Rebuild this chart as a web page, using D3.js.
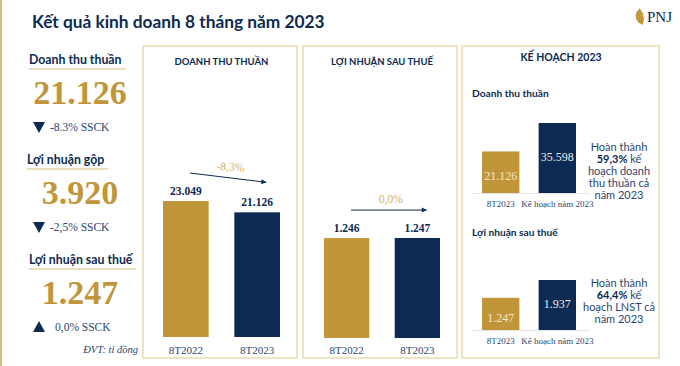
<!DOCTYPE html>
<html lang="vi">
<head>
<meta charset="UTF-8">
<title>Kết quả kinh doanh 8 tháng năm 2023</title>
<style>
    body { margin: 0; background: #fff; }
    svg { display: block; }
</style>
<script src="https://d3js.org/d3.v7.min.js"></script>
</head>
<body>
<div id="chart"></div>
<script>
    // data
    var kpiNames = ["Doanh thu thuần", "Lợi nhuận gộp", "Lợi nhuận sau thuế"];
    var kpiValues = [21126, 3920, 1247];
    var kpiChanges = ["-8.3% SSCK", "-2,5% SSCK", "0,0% SSCK"];
    var kpiUp = [false, false, true];

    var years = ["8T2022", "8T2023"];
    var revenue = [23049, 21126];
    var profit = [1246, 1247];
    var revenueChange = "-8,3%";
    var profitChange = "0,0%";

    var planCats = ["8T2023", "Kế hoạch năm 2023"];
    var planRevenue = [21126, 35598];
    var planProfit = [1247, 1937];
    var planRevenueNote = ["Hoàn thành", "59,3% kế", "hoạch doanh", "thu thuần cả", "năm 2023"];
    var planProfitNote = ["Hoàn thành", "64,4% kế", "hoạch LNST cả", "năm 2023"];

    var gold = "#C1963B", navy = "#0C2A52", frame = "#E9DCB2", textBlue = "#2C4670";
    var serif = "'Liberation Serif', 'DejaVu Serif', serif";
    var sans = "Lato, 'Open Sans', sans-serif";

    var vn = d3.formatLocale({decimal: ",", thousands: ".", grouping: [3], currency: ["", ""]});
    var fmt = vn.format(",d");

    var svg = d3.select("#chart").append("svg").attr("width", 680).attr("height", 366);

    // left edge line + title
    svg.append("rect").attr("x", 0).attr("y", 0).attr("width", 2).attr("height", 366).attr("fill", "#D9BE7C");
    svg.append("text").attr("x", 32).attr("y", 28).text("Kết quả kinh doanh 8 tháng năm 2023")
        .attr("font-family", sans).attr("font-weight", 700).attr("font-size", 17.3).attr("fill", navy);

    // PNJ logo
    var logo = svg.append("g").attr("transform", "translate(645,16)");
    d3.range(5).forEach(function(i) {
        var a = -60 + i * 25;
        logo.append("path")
            .attr("d", "M0,0 L-8,-2.5 L-8,2.5 Z")
            .attr("transform", "rotate(" + a + ") translate(-1,0)")
            .attr("fill", gold);
    });
    logo.append("text").attr("x", 2).attr("y", 6).text("PNJ")
        .attr("font-family", serif).attr("font-size", 15).attr("fill", navy);

    // left KPI column
    var kpiY = [60, 160, 260];
    kpiNames.forEach(function(name, i) {
        var y = kpiY[i];
        var lx = i == 1 ? 27 : 29;
        var t = svg.append("text").attr("x", lx).attr("y", y + 4).text(name)
            .attr("font-family", sans).attr("font-weight", 700).attr("font-size", 12.3).attr("fill", navy);
        var w = t.node().getComputedTextLength();
        svg.append("line").attr("x1", lx).attr("x2", lx + w + 4)
            .attr("y1", y + 9).attr("y2", y + 9).attr("stroke", "#D9BE7C").attr("stroke-width", 1.2);
        svg.append("text").attr("x", 80).attr("y", y + 44).attr("text-anchor", "middle").text(fmt(kpiValues[i]))
            .attr("font-family", serif).attr("font-weight", 700).attr("font-size", 34).attr("fill", gold);
        var ty = y + 67;
        svg.append("path")
            .attr("d", kpiUp[i] ? "M33," + (ty + 5) + " L45," + (ty + 5) + " L39," + (ty - 6) + " Z"
                                : "M33," + (ty - 5) + " L45," + (ty - 5) + " L39," + (ty + 6) + " Z")
            .attr("fill", navy);
        svg.append("text").attr("x", kpiUp[i] ? 55 : 50).attr("y", ty + 4).text(kpiChanges[i])
            .attr("font-family", serif).attr("font-size", 11.5).attr("fill", textBlue);
    });
    svg.append("text").attr("x", 138).attr("y", 353).attr("text-anchor", "end").text("ĐVT: tỉ đồng")
        .attr("font-family", serif).attr("font-style", "italic").attr("font-size", 10.5).attr("fill", textBlue);

    // panel frames
    [[143, 154], [303, 154], [462, 197]].forEach(function(p) {
        svg.append("rect").attr("x", p[0]).attr("y", 46).attr("width", p[1]).attr("height", 312)
            .attr("fill", "none").attr("stroke", frame).attr("stroke-width", 1.5);
    });

    // comparison panels
    function comparePanel(title, values, change, x0, x1, yTop, baseY) {
        var x = d3.scaleBand().domain(years).range([x0, x1]).paddingInner(0.36);
        var y = d3.scaleLinear().domain([0, d3.max(values)]).range([baseY, yTop]);
        var cx = (x0 + x1) / 2;
        svg.append("text").attr("x", cx).attr("y", 65).attr("text-anchor", "middle").text(title)
            .attr("font-family", sans).attr("font-weight", 700).attr("font-size", 9.5).attr("fill", navy);
        var g = svg.append("g");
        g.selectAll("rect").data(values).enter().append("rect")
            .attr("x", function(d, i) { return x(years[i]); })
            .attr("y", function(d) { return y(d); })
            .attr("width", x.bandwidth())
            .attr("height", function(d) { return baseY - y(d); })
            .attr("fill", function(d, i) { return i == 0 ? gold : navy; });
        g.selectAll(".val").data(values).enter().append("text")
            .attr("x", function(d, i) { return x(years[i]) + x.bandwidth() / 2; })
            .attr("y", function(d) { return y(d) - 6; })
            .attr("text-anchor", "middle").text(function(d) { return fmt(d); })
            .attr("font-family", serif).attr("font-weight", 700).attr("font-size", 11.5).attr("fill", navy);
        g.selectAll(".lab").data(years).enter().append("text")
            .attr("x", function(d) { return x(d) + x.bandwidth() / 2; })
            .attr("y", 354).attr("text-anchor", "middle").text(function(d) { return d; })
            .attr("font-family", serif).attr("font-size", 11).attr("fill", textBlue);
        // arrow between the bars
        var a1 = x(years[0]) + 27, a2 = x(years[1]) + 32;
        var ya = y(values[0]) - 28, yb = y(values[1]) - 30;
        if (values[1] > values[0] * 0.99 && values[1] < values[0] * 1.01) yb = ya;
        svg.append("line").attr("x1", a1).attr("y1", ya).attr("x2", a2).attr("y2", yb)
            .attr("stroke", navy).attr("stroke-width", 1);
        var ang = Math.atan2(yb - ya, a2 - a1) * 180 / Math.PI;
        svg.append("path").attr("d", "M0,0 L-5,-2.5 L-5,2.5 Z")
            .attr("transform", "translate(" + a2 + "," + yb + ") rotate(" + ang + ")").attr("fill", navy);
        var mx = (a1 + a2) / 2 + 2, my = (ya + yb) / 2 - 7;
        svg.append("text").attr("x", mx).attr("y", my).attr("text-anchor", "middle").text(change)
            .attr("transform", "rotate(" + ang / 2 + "," + mx + "," + my + ")")
            .attr("font-family", serif).attr("font-size", 11.5).attr("fill", "#D4B060");
    }
    comparePanel("DOANH THU THUẦN", revenue, revenueChange, 163, 280, 201, 337);
    comparePanel("LỢI NHUẬN SAU THUẾ", profit, profitChange, 324, 440, 238, 338);

    // plan panel
    svg.append("text").attr("x", 561).attr("y", 61).attr("text-anchor", "middle").text("KẾ HOẠCH 2023")
        .attr("font-family", sans).attr("font-weight", 700).attr("font-size", 10.5).attr("fill", navy);

    function planChart(title, values, note, titleY, yTop, baseY, noteY) {
        var x = d3.scaleBand().domain(planCats).range([482, 576]).paddingInner(0.34);
        var y = d3.scaleLinear().domain([0, d3.max(values)]).range([baseY, yTop]);
        svg.append("text").attr("x", 472).attr("y", titleY).text(title)
            .attr("font-family", sans).attr("font-weight", 700).attr("font-size", 10.2).attr("fill", navy);
        svg.append("line").attr("x1", 472).attr("x2", 590).attr("y1", baseY + 0.5).attr("y2", baseY + 0.5)
            .attr("stroke", "#E4E4E4").attr("stroke-width", 1);
        var g = svg.append("g");
        g.selectAll("rect").data(values).enter().append("rect")
            .attr("x", function(d, i) { return x(planCats[i]); })
            .attr("y", function(d) { return y(d); })
            .attr("width", x.bandwidth())
            .attr("height", function(d) { return baseY - y(d); })
            .attr("fill", function(d, i) { return i == 0 ? gold : navy; });
        g.selectAll(".val").data(values).enter().append("text")
            .attr("x", function(d, i) { return x(planCats[i]) + x.bandwidth() / 2; })
            .attr("y", function(d) { return (y(d) + baseY) / 2 + 4 + (d == values[0] ? 4 : -1); })
            .attr("text-anchor", "middle").text(function(d) { return fmt(d); })
            .attr("font-family", serif).attr("font-size", 12)
            .attr("fill", function(d, i) { return i == 0 ? "#F3E6C4" : "#E8ECF3"; });
        g.selectAll(".lab").data(planCats).enter().append("text")
            .attr("x", function(d) { return x(d) + x.bandwidth() / 2; })
            .attr("y", baseY + 14).attr("text-anchor", "middle").text(function(d) { return d; })
            .attr("font-family", serif).attr("font-size", 9).attr("fill", textBlue);
        note.forEach(function(line, i) {
            var t = svg.append("text").attr("x", 619).attr("y", noteY + i * 12).attr("text-anchor", "middle")
                .attr("font-family", sans).attr("font-size", 11).attr("fill", textBlue);
            if (i == 1) {
                var parts = line.split(" ");
                t.append("tspan").attr("font-weight", 700).attr("fill", navy).text(parts[0]);
                t.append("tspan").text(" " + parts.slice(1).join(" "));
            } else t.text(line);
        });
    }
    planChart("Doanh thu thuần", planRevenue, planRevenueNote, 97, 123, 193, 151);
    planChart("Lợi nhuận sau thuế", planProfit, planProfitNote, 236, 280, 330, 287);
</script>
</body>
</html>
